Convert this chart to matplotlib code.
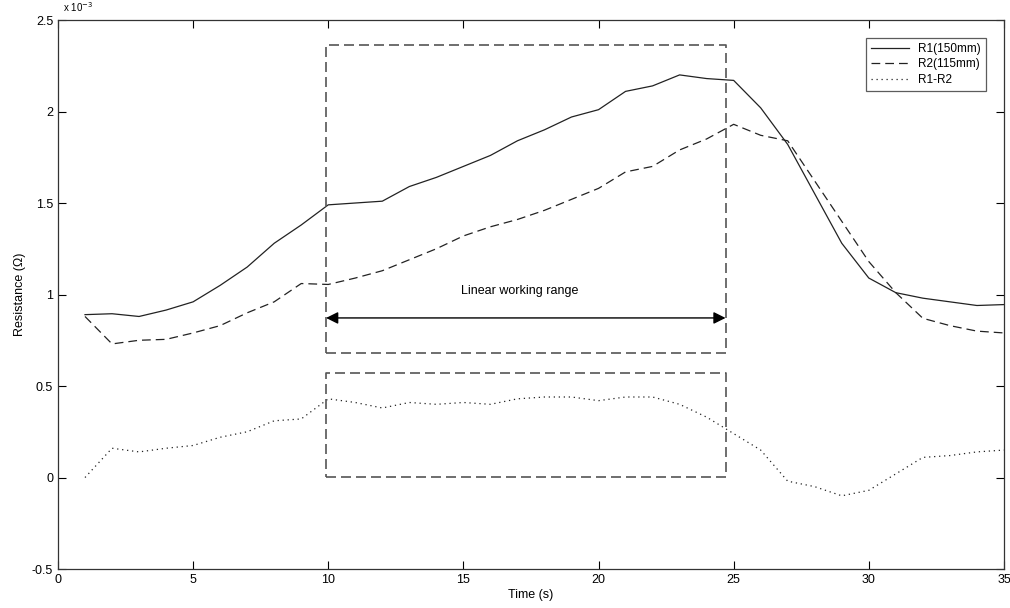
import numpy as np
import matplotlib.pyplot as plt

plt.rcParams['font.family'] = ['Liberation Sans', 'DejaVu Sans']

# tempo (s)
tempo = list(range(1, 36))

r1 = [0.89, 0.895, 0.88, 0.915, 0.96, 1.05, 1.15, 1.28, 1.38, 1.49,
      1.50, 1.51, 1.59, 1.64, 1.70, 1.76, 1.84, 1.90, 1.97, 2.01,
      2.11, 2.14, 2.20, 2.18, 2.17, 2.02, 1.82, 1.55, 1.28, 1.09,
      1.01, 0.98, 0.96, 0.94, 0.945]

r2 = [0.88, 0.73, 0.75, 0.755, 0.79, 0.83, 0.90, 0.96, 1.06, 1.055,
      1.09, 1.13, 1.19, 1.25, 1.32, 1.37, 1.41, 1.46, 1.52, 1.58,
      1.67, 1.70, 1.79, 1.85, 1.93, 1.87, 1.84, 1.62, 1.40, 1.18,
      1.01, 0.87, 0.83, 0.80, 0.79]

dif = [0.0, 0.16, 0.14, 0.16, 0.175, 0.22, 0.25, 0.31, 0.32, 0.43,
       0.41, 0.38, 0.41, 0.40, 0.41, 0.40, 0.43, 0.44, 0.44, 0.42,
       0.44, 0.44, 0.40, 0.33, 0.24, 0.15, -0.02, -0.05, -0.10, -0.07,
       0.02, 0.11, 0.12, 0.14, 0.15]

# faixa linear
faixa_x = [9.92, 24.7]
caixa_sup = [0.68, 2.365]
caixa_inf = [0.003, 0.57]
seta_y = 0.872

fig = plt.figure(figsize=(10.1, 6.08), dpi=100)
ax = fig.add_axes([0.0574, 0.0641, 0.9366, 0.9030])

ax.plot(tempo, r1, color='#222222', linewidth=0.9, linestyle='-', label='R1(150mm)')
ax.plot(tempo, r2, color='#222222', linewidth=0.9, linestyle=(0, (7, 4)), label='R2(115mm)')
ax.plot(tempo, dif, color='#222222', linewidth=0.9, linestyle=(0, (1, 3)), label='R1-R2')

# caixas tracejadas
for y0, y1 in [caixa_sup, caixa_inf]:
    ax.plot([faixa_x[0], faixa_x[1], faixa_x[1], faixa_x[0], faixa_x[0]],
            [y0, y0, y1, y1, y0], color='#555555', linewidth=1.2,
            linestyle=(0, (6, 3)))

ax.annotate('', xy=(faixa_x[0], seta_y), xytext=(faixa_x[1], seta_y),
            arrowprops=dict(arrowstyle='<|-|>', color='black', lw=1.0,
                            shrinkA=0, shrinkB=0, mutation_scale=18))
ax.text(17.1, 1.02, 'Linear working range', ha='center', va='center', fontsize=9)

ax.set_xlim(0, 35)
ax.set_ylim(-0.5, 2.5)
ax.set_xticks(np.arange(0, 36, 5))
ax.set_yticks(np.arange(-0.5, 2.6, 0.5))
ax.set_yticklabels(['-0.5', '0', '0.5', '1', '1.5', '2', '2.5'])
ax.tick_params(direction='in', top=True, right=True, labelsize=9, length=6, width=0.8)
for s in ax.spines.values():
    s.set_linewidth(0.9)
    s.set_color('#333333')

ax.set_xlabel('Time (s)', fontsize=9, labelpad=2)
ax.set_ylabel('Resistance (Ω)', fontsize=9, labelpad=4)

fig.text(0.062, 0.999, 'x 10$^{-3}$', fontsize=7, va='top', ha='left')

leg = ax.legend(loc='upper right', fontsize=8.5, frameon=True, fancybox=False,
                edgecolor='#333333', handlelength=3.2, borderpad=0.4,
                labelspacing=0.3, bbox_to_anchor=(0.987, 0.978))
leg.get_frame().set_linewidth(0.9)

fig.savefig('out.png', dpi=100)
